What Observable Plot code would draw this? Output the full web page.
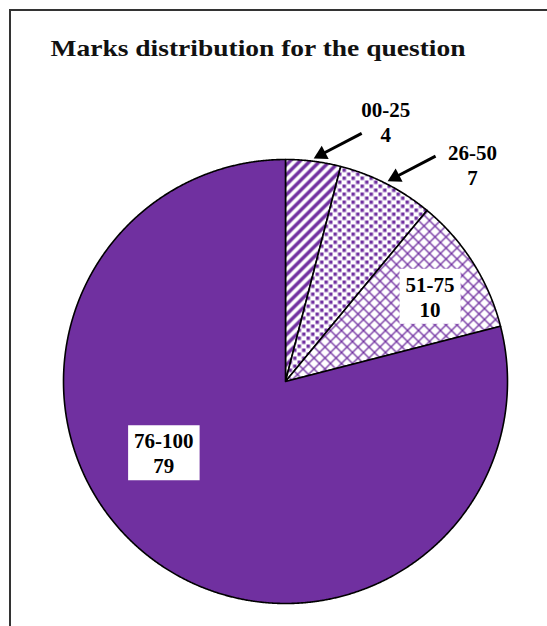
<!DOCTYPE html>
<html><head><meta charset="utf-8">
<script src="https://cdn.jsdelivr.net/npm/d3@7"></script>
<script src="https://cdn.jsdelivr.net/npm/@observablehq/plot@0.6"></script>
<style>
html,body{margin:0;padding:0;background:#fff;overflow:hidden;}
#wrap{position:relative;width:547px;height:626px;overflow:hidden;}
#border{position:absolute;left:9px;top:9px;width:800px;height:900px;border:2px solid #333;box-sizing:border-box;z-index:5;pointer-events:none;}
#chart svg{position:absolute;left:0;top:0;}
</style></head><body><div id="wrap"><div id="chart"></div><div id="border"></div></div>
<script>
// ---- data ----
const title = "Marks distribution for the question";
const categories = ["00-25", "26-50", "51-75", "76-100"];
const values = [4, 7, 10, 79];

// ---- layout / style ----
const W = 547, H = 626;
const CX = 285, CY = 381, R = 222;
const purple = "#7030A0";
const FONT = "'Liberation Serif','Times New Roman',serif";
const FS = 21, TFS = 23;
const fills = ["url(#pat0)", "url(#pat1)", "url(#pat2)", purple];
// label placement: anchor at mid-angle, radius factor, pixel offsets
const labelCfg = [
  {r: 1.013, dx: 72, dy: -37, box: false, arrow: true},
  {r: 1.013, dx: 85, dy: -17, box: false, arrow: true},
  {r: 0.75, dx: 4, dy: 4, box: true, arrow: false},
  {r: 0.6, dx: -40, dy: -34, box: true, arrow: false}
];
const arrowOff = {dx: 48, dy: -25}; // pixel offset of tail from tip

const arcs = d3.pie().sort(null).value(d => d)(values);

// slice polygons (data units, unit circle)
const slicePts = arcs.map((a, i) => {
  const pts = [{x: 0, y: 0}];
  const n = Math.max(4, Math.ceil((a.endAngle - a.startAngle) / (Math.PI / 720)));
  for (let j = 0; j <= n; j++) {
    const t = a.startAngle + (a.endAngle - a.startAngle) * j / n;
    pts.push({x: Math.sin(t), y: Math.cos(t)});
  }
  pts.push({x: 0, y: 0});
  return pts;
});

const labels = arcs.map((a, i) => {
  const m = (a.startAngle + a.endAngle) / 2, c = labelCfg[i];
  return {text: categories[i] + "\n" + values[i],
          x: c.r * Math.sin(m) + c.dx / R, y: c.r * Math.cos(m) - c.dy / R, box: c.box};
});

// arrows
const headH = 13; // triangle height px
const arrows = arcs.map((a, i) => ({a, i})).filter(d => labelCfg[d.i].arrow).map(({a, i}) => {
  const m = (a.startAngle + a.endAngle) / 2, r = labelCfg[i].r;
  const tx = r * Math.sin(m), ty = r * Math.cos(m);
  const sx = tx + arrowOff.dx / R, sy = ty - arrowOff.dy / R;
  let ux = tx - sx, uy = ty - sy; const L = Math.hypot(ux, uy); ux /= L; uy /= L;
  const k = (headH * 2 / 3) / R; // centroid distance from apex
  const hx = tx - ux * k, hy = ty - uy * k;
  const rot = Math.atan2(ux, uy) * 180 / Math.PI;
  return {sx, sy, hx, hy, bx: tx - ux * headH * 0.9 / R, by: ty - uy * headH * 0.9 / R, rot};
});
const triR = Math.sqrt(3 * Math.sqrt(3) * Math.pow(headH / 3, 2) / Math.PI);

const marks = [];
slicePts.forEach((pts, i) => {
  marks.push(Plot.line(pts, {x: "x", y: "y", fill: fills[i], stroke: "black", strokeWidth: 1.6, strokeLinejoin: "round", curve: "linear"}));
});
marks.push(Plot.link(arrows, {x1: "sx", y1: "sy", x2: "bx", y2: "by", stroke: "black", strokeWidth: 3}));
marks.push(Plot.dot(arrows, {x: "hx", y: "hy", symbol: "triangle", r: triR, fill: "black", stroke: "none", rotate: "rot"}));
marks.push(Plot.text(labels, {x: "x", y: "y", text: "text", fontSize: FS, fontWeight: "bold", fontFamily: FONT, fill: "black", lineHeight: 25 / FS, textAnchor: "middle"}));
marks.push(Plot.text([title], {frameAnchor: "top-left", dx: 50, dy: 47 - 0.32 * TFS, text: d => d, fontSize: TFS, fontWeight: "bold", fontFamily: FONT, fill: "#111", textAnchor: "start"}));

const svg = Plot.plot({
  width: W, height: H,
  marginLeft: 0, marginRight: 0, marginTop: 0, marginBottom: 0,
  x: {domain: [-1, 1], range: [CX - R, CX + R], axis: null},
  y: {domain: [-1, 1], range: [CY + R, CY - R], axis: null},
  style: {background: "transparent", overflow: "visible"},
  marks
});
document.getElementById("chart").appendChild(svg);

// patterns
const defs = d3.select(svg).insert("defs", ":first-child");
const P0 = 10;
const p0 = defs.append("pattern").attr("id", "pat0").attr("patternUnits", "userSpaceOnUse").attr("width", P0).attr("height", P0);
p0.append("rect").attr("width", P0).attr("height", P0).attr("fill", "white");
p0.append("path").attr("d", `M-3,3L3,-3M0,${P0}L${P0},0M${P0 - 3},${P0 + 3}L${P0 + 3},${P0 - 3}`).attr("stroke", purple).attr("stroke-width", 3.4);
const P1w = 9, P1h = 8, SQ = 3.5;
const p1 = defs.append("pattern").attr("id", "pat1").attr("patternUnits", "userSpaceOnUse").attr("width", P1w).attr("height", P1h);
p1.append("rect").attr("width", P1w).attr("height", P1h).attr("fill", "white");
p1.append("rect").attr("x", 0).attr("y", 0).attr("width", SQ).attr("height", SQ).attr("fill", purple);
p1.append("rect").attr("x", P1w / 2).attr("y", P1h / 2).attr("width", SQ).attr("height", SQ).attr("fill", purple);
const P2 = 11;
const p2 = defs.append("pattern").attr("id", "pat2").attr("patternUnits", "userSpaceOnUse").attr("width", P2).attr("height", P2);
p2.append("rect").attr("width", P2).attr("height", P2).attr("fill", "white");
p2.append("path").attr("d", `M0,0L${P2},${P2}M0,${P2}L${P2},0`).attr("stroke", purple).attr("stroke-width", 1.3);

// white boxes behind boxed labels; stretch title to reference width
const boxedSet = new Set(labels.filter(d => d.box).map(d => d.text.replace("\n", "")));
d3.select(svg).selectAll("text").each(function () {
  if (boxedSet.has(this.textContent)) {
    const b = this.getBBox();
    d3.select(this.parentNode).insert("rect", () => this)
      .attr("x", b.x - 6).attr("y", b.y - 4).attr("width", b.width + 12).attr("height", b.height + 6)
      .attr("fill", "white").attr("transform", this.getAttribute("transform"));
  }
  if (this.textContent === title) {
    this.setAttribute("textLength", 415);
    this.setAttribute("lengthAdjust", "spacingAndGlyphs");
  }
});
</script>
</body></html>
